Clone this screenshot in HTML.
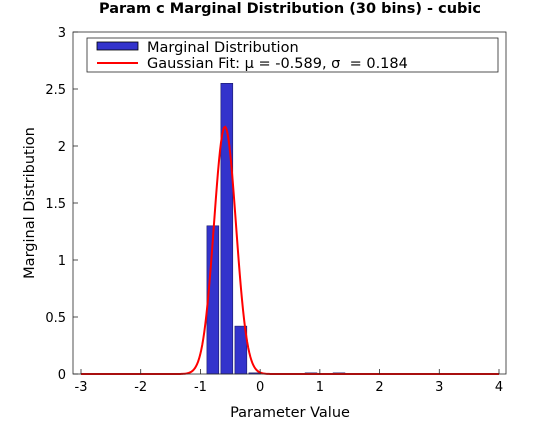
<!DOCTYPE html>
<html><head><meta charset="utf-8"><style>
body{margin:0;background:#fff;}
svg{font-family:"DejaVu Sans","Liberation Sans",sans-serif;}
</style></head><body>
<svg id="chart" width="560" height="420" xmlns="http://www.w3.org/2000/svg">
<rect width="560" height="420" fill="#fff"/>
<text x="290" y="13" text-anchor="middle" font-weight="bold" font-size="14.5">Param c Marginal Distribution (30 bins) - cubic</text>
<g id="plot"></g>
<rect x="73" y="32" width="433" height="342" fill="none" stroke="#262626" stroke-width="0.8"/>
<text x="290" y="417" text-anchor="middle" font-size="14.5">Parameter Value</text>
<text transform="translate(34,203) rotate(-90)" text-anchor="middle" font-size="14.5">Marginal Distribution</text>
<g>
<rect x="87" y="38" width="411" height="34" fill="#fff" stroke="#262626" stroke-width="0.8"/>
<rect x="97" y="42" width="41" height="8" fill="#3333cc" stroke="#000" stroke-width="0.8"/>
<text x="147" y="52" font-size="14.5">Marginal Distribution</text>
<line x1="97" y1="63" x2="138" y2="63" stroke="red" stroke-width="2"/>
<text x="147" y="68" font-size="14.5">Gaussian Fit: μ = -0.589, σ&#160; = 0.184</text>
</g>
</svg>
<script>
const binCenters=[-0.792,-0.558,-0.323,-0.089,0.852,1.321];
const binHeights=[1.30,2.55,0.42,0.01,0.01,0.01];
const binWidth=0.2345;
const fitMu=-0.589;
const fitSigma=0.184;
const xTicks=[-3,-2,-1,0,1,2,3,4];
const yTicks=[0,0.5,1,1.5,2,2.5,3];
const yTickLabels=["0","0.5","1","1.5","2","2.5","3"];
const NS="http://www.w3.org/2000/svg";
const X=v=>81+(v+3)*59.714;
const Y=v=>374-v*114;
const g=document.getElementById('plot');
function mk(t,a){const e=document.createElementNS(NS,t);for(const k in a)e.setAttribute(k,a[k]);g.appendChild(e);return e;}
binCenters.forEach((c,i)=>{
  const w=binWidth*0.85;
  const r=mk('rect',{x:X(c-w/2),y:Y(binHeights[i]),width:X(c+w/2)-X(c-w/2),height:Y(0)-Y(binHeights[i]),fill:'#3333cc',stroke:'#1a1a66','stroke-width':0.6});
  
  
});
let d='';
for(let i=0;i<=400;i++){const x=-3+7*i/400;const y=Math.exp(-0.5*((x-fitMu)/fitSigma)**2)/(fitSigma*Math.sqrt(2*Math.PI));d+=(i?'L':'M')+X(x).toFixed(2)+','+Y(y).toFixed(2);}
const p=mk('path',{d:d,fill:'none',stroke:'red','stroke-width':2});


xTicks.forEach(t=>{
  const l=mk('line',{x1:X(t),x2:X(t),y1:374,y2:369,stroke:'#262626','stroke-width':0.8});
  
  
  const tx=mk('text',{x:X(t),y:391,'text-anchor':'middle','font-size':13});
  tx.textContent=String(t);
  
  
});
yTicks.forEach((t,i)=>{
  const l=mk('line',{x1:73,x2:78,y1:Y(t),y2:Y(t),stroke:'#262626','stroke-width':0.8});
  
  
  const tx=mk('text',{x:66,y:Y(t)+5,'text-anchor':'end','font-size':13});
  tx.textContent=yTickLabels[i];
  
  
});
</script>
</body></html>
